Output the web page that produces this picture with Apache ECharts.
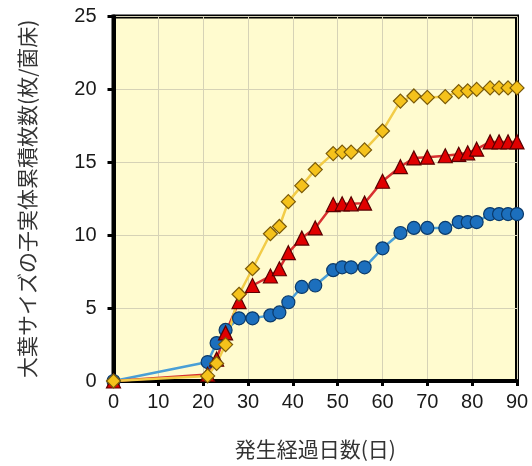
<!DOCTYPE html>
<html>
<head>
<meta charset="utf-8">
<script src="https://cdn.jsdelivr.net/npm/echarts@6/dist/echarts.min.js"></script>
<style>
  html, body { margin: 0; padding: 0; background: #ffffff; }
  #chart { width: 532px; height: 466px; }
</style>
</head>
<body>
<div id="chart"></div>
<script>
// Days since first flush
const days = [0, 21, 23, 25, 28, 31, 35, 37, 39, 42, 45, 49, 51, 53, 56, 60, 64, 67, 70, 74, 77, 79, 81, 84, 86, 88, 90];

// Cumulative count of large-leaf fruit bodies per bed, three plots
const seriesBlue = [0, 1.3, 2.6, 3.5, 4.3, 4.3, 4.5, 4.7, 5.4, 6.45, 6.55, 7.6, 7.8, 7.8, 7.8, 9.1, 10.15, 10.5, 10.5, 10.5, 10.9, 10.9, 10.9, 11.45, 11.45, 11.45, 11.45];
const seriesRed = [0, 0.45, 1.5, 3.3, 5.45, 6.55, 7.2, 7.7, 8.8, 9.8, 10.5, 12.1, 12.15, 12.15, 12.2, 13.7, 14.7, 15.3, 15.35, 15.45, 15.55, 15.65, 15.9, 16.4, 16.4, 16.4, 16.4];
const seriesYellow = [0, 0.35, 1.2, 2.5, 5.95, 7.7, 10.1, 10.6, 12.3, 13.4, 14.5, 15.6, 15.7, 15.7, 15.85, 17.15, 19.2, 19.55, 19.45, 19.5, 19.85, 19.9, 20.0, 20.1, 20.1, 20.1, 20.1];

const xTicks = [0, 10, 20, 30, 40, 50, 60, 70, 80, 90];
const yTicks = [0, 5, 10, 15, 20, 25];

const xName = '発生経過日数(日)';
const yName = '大葉サイズの子実体累積枚数(枚/菌床)';

const pairs = (vals) => days.map((d, i) => [d, vals[i]]);

const chart = echarts.init(document.getElementById('chart'), null, { renderer: 'canvas' });

const labelFont = { fontFamily: 'Liberation Sans, Arial, sans-serif', fontSize: 20, color: '#1a1a1a' };
const nameFont = { fontFamily: 'Noto Sans CJK JP, sans-serif', fontSize: 21, color: '#333333' };

function lineSeries(name, vals, symbol, size, fill, border, lineColor) {
  return {
    name,
    type: 'line',
    data: pairs(vals),
    symbol,
    symbolSize: size,
    showAllSymbol: true,
    lineStyle: { color: lineColor, width: 2.5 },
    itemStyle: { color: fill, borderColor: border, borderWidth: 1.2 },
    emphasis: { disabled: true },
    animation: false
  };
}

chart.setOption({
  animation: false,
  grid: {
    left: 113.5, right: 15, top: 16.5, bottom: 85,
    show: true,
    backgroundColor: '#fffbcf',
    borderColor: '#000000',
    borderWidth: 4
  },
  xAxis: {
    type: 'value',
    min: xTicks[0],
    max: xTicks[xTicks.length - 1],
    interval: 10,
    name: xName,
    nameLocation: 'middle',
    nameGap: 58,
    nameTextStyle: nameFont,
    axisLine: { show: true, onZero: false, lineStyle: { color: '#000', width: 4 } },
    axisTick: { show: true, inside: false, length: 5, lineStyle: { color: '#000', width: 3 } },
    axisLabel: Object.assign({ margin: 11 }, labelFont),
    splitLine: { show: true, lineStyle: { color: '#d6d2b6', width: 1 } }
  },
  yAxis: {
    type: 'value',
    min: yTicks[0],
    max: yTicks[yTicks.length - 1],
    interval: 5,
    name: yName,
    nameLocation: 'middle',
    nameRotate: 90,
    nameGap: 76,
    nameTextStyle: nameFont,
    axisLine: { show: true, onZero: false, lineStyle: { color: '#000', width: 4 } },
    axisTick: { show: true, inside: false, length: 6, lineStyle: { color: '#000', width: 3 } },
    axisLabel: Object.assign({ margin: 17 }, labelFont),
    splitLine: { show: true, lineStyle: { color: '#d6d2b6', width: 1 } }
  },
  series: [
    lineSeries('blue', seriesBlue, 'circle', 13, '#1c6fbd', '#0b3a6a', '#4a9fd6'),
    lineSeries('red', seriesRed, 'triangle', 14, '#e00000', '#5a0000', '#d83030'),
    lineSeries('yellow', seriesYellow, 'diamond', 14, '#f5c21b', '#7a5a08', '#f2cc48')
  ]
});
</script>
</body>
</html>
